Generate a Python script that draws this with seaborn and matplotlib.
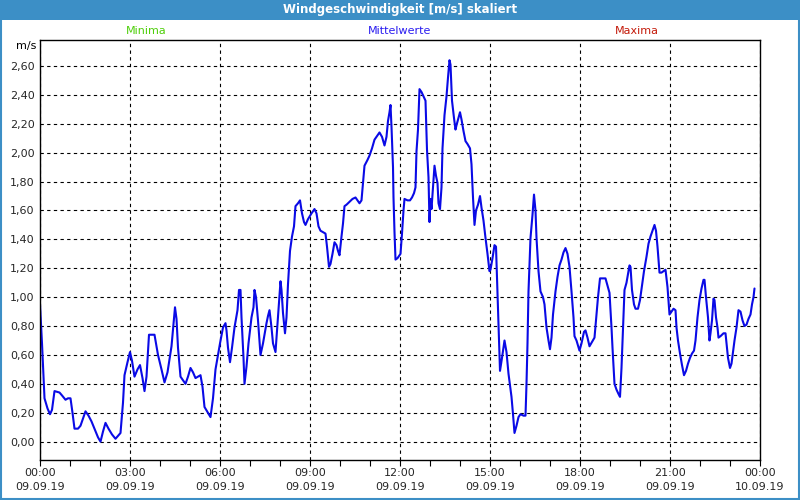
"""
Windgeschwindigkeit (scaled) over one day, 10-minute-ish readings
"""
import pandas as pd
import matplotlib
matplotlib.use("Agg")
import matplotlib.pyplot as plt
import matplotlib.dates as mdates
from matplotlib.patches import Rectangle
import seaborn as sns

# minutes after 09.09.19 00:00
minutes = [
    0, 4, 9, 15, 20, 24, 29, 39, 44, 51, 56, 61, 65, 69, 76, 81, 91, 97, 103, 109,
    116, 121, 126, 131, 137, 144, 151, 156, 161, 166, 169, 175, 180, 184, 189, 195,
    200, 205, 209, 213, 218, 229, 236, 243, 249, 255, 263, 268, 270, 273, 276, 281,
    287, 291, 296, 301, 306, 311, 316, 321, 325, 329, 336, 341, 346, 351, 356, 360,
    366, 371, 373, 376, 380, 384, 389, 395, 398, 401, 403, 407, 409, 413, 417, 423,
    427, 429, 432, 436, 441, 446, 453, 456, 459, 463, 466, 471, 475, 478, 481, 483,
    486, 490, 493, 496, 500, 504, 508, 511, 516, 520, 524, 528, 531, 536, 543, 549,
    553, 557, 561, 566, 571, 574, 578, 581, 585, 589, 593, 596, 599, 603, 606, 609,
    613, 619, 625, 631, 635, 639, 643, 646, 649, 655, 659, 664, 669, 675, 679, 684,
    689, 693, 696, 699, 701, 703, 706, 707, 709, 711, 715, 719,
    721, 724, 727, 729, 735, 740, 744, 748, 751, 753, 756, 759, 763, 767, 771, 774,
    777, 779, 781, 783, 786, 789, 792, 795, 797, 800, 803, 805, 809, 813, 816, 819,
    821, 824, 828, 831, 833, 837, 840, 843, 847, 851, 855, 860, 863, 866, 869, 872,
    876, 880, 883, 887, 891, 895, 899, 901, 905, 909, 912, 915, 918, 920, 924, 929,
    933, 937, 943, 946, 949, 953, 957, 961, 967, 971, 973, 975, 977, 981, 985, 988,
    991, 993, 997, 1001, 1006, 1009, 1013, 1017, 1020, 1023, 1026, 1031, 1035, 1039,
    1043, 1047, 1051, 1055, 1059, 1063, 1067, 1069, 1073,
    1079, 1083, 1088, 1091, 1095, 1099, 1104, 1109, 1113, 1116, 1120, 1126, 1131,
    1135, 1139, 1143, 1145, 1149, 1153, 1157, 1160, 1163, 1166, 1169, 1173, 1176,
    1179, 1181, 1184, 1188, 1191, 1196, 1200, 1204, 1208, 1213, 1217, 1221, 1226,
    1229, 1232, 1235, 1239, 1243, 1247, 1251, 1255, 1259, 1263, 1267, 1271, 1273,
    1276, 1280, 1284, 1288, 1292, 1296, 1300, 1304, 1308, 1311, 1315, 1319, 1323,
    1327, 1329, 1332, 1336, 1339, 1341, 1344, 1347, 1349, 1352, 1355, 1357, 1361,
    1367, 1371, 1373, 1376, 1380, 1383, 1386, 1389, 1393, 1397, 1401, 1405, 1409,
    1413, 1417, 1421, 1424, 1427, 1429,
]
speed = [
    0.95, 0.68, 0.30, 0.23, 0.19, 0.22, 0.35, 0.34, 0.32, 0.29, 0.30, 0.30, 0.20, 0.09, 0.09, 0.11, 0.21, 0.18, 0.14, 0.09,
    0.03, 0.00, 0.07, 0.13, 0.09, 0.05, 0.02, 0.04, 0.06, 0.27, 0.46, 0.55, 0.62, 0.56, 0.45, 0.50,
    0.53, 0.44, 0.35, 0.45, 0.74, 0.74, 0.60, 0.50, 0.41, 0.48, 0.66, 0.85, 0.93, 0.85, 0.65, 0.45,
    0.42, 0.40, 0.45, 0.51, 0.48, 0.44, 0.45, 0.46, 0.38, 0.24, 0.20, 0.17, 0.30, 0.50, 0.60, 0.68,
    0.79, 0.82, 0.77, 0.65, 0.55, 0.65, 0.79, 0.91, 1.05, 1.05, 0.86, 0.58, 0.40, 0.52, 0.68, 0.86,
    0.93, 1.05, 1.00, 0.84, 0.60, 0.68, 0.82, 0.87, 0.91, 0.79, 0.68, 0.62, 0.82, 0.96, 1.11, 1.05,
    0.89, 0.75, 0.86, 1.09, 1.32, 1.42, 1.49, 1.63, 1.65, 1.67, 1.58, 1.52, 1.50, 1.54, 1.58, 1.61,
    1.58, 1.49, 1.46, 1.45, 1.44, 1.35, 1.21, 1.23, 1.30, 1.38, 1.36, 1.32, 1.29, 1.42, 1.51, 1.63,
    1.64, 1.66, 1.68, 1.69, 1.67, 1.65, 1.67, 1.79, 1.91, 1.95, 1.98, 2.03, 2.09, 2.12, 2.14, 2.11,
    2.05, 2.11, 2.22, 2.28, 2.33, 2.18, 1.90, 1.69, 1.45, 1.26, 1.27, 1.29,
    1.30, 1.44, 1.60, 1.68, 1.67, 1.67, 1.69, 1.72, 1.76, 2.01, 2.16, 2.44, 2.42, 2.39, 2.36, 2.02,
    1.83, 1.52, 1.68, 1.61, 1.76, 1.91, 1.84, 1.79, 1.65, 1.61, 1.76, 2.03, 2.26, 2.39, 2.52, 2.64,
    2.61, 2.36, 2.24, 2.16, 2.19, 2.24, 2.28, 2.23, 2.15, 2.08, 2.06, 2.03, 1.92, 1.69, 1.50, 1.60,
    1.64, 1.70, 1.62, 1.53, 1.41, 1.30, 1.18, 1.19, 1.27, 1.36, 1.35, 1.02, 0.68, 0.49, 0.58, 0.70,
    0.62, 0.47, 0.31, 0.19, 0.06, 0.11, 0.17, 0.19, 0.18, 0.18, 0.40, 0.68, 1.04, 1.41, 1.57, 1.71,
    1.60, 1.41, 1.18, 1.04, 1.00, 0.95, 0.79, 0.70, 0.64, 0.72, 0.88, 1.04, 1.14, 1.22,
    1.26, 1.31, 1.34, 1.30, 1.21, 1.04, 0.86, 0.73, 0.70,
    0.63, 0.68, 0.76, 0.77, 0.72, 0.66, 0.69, 0.72, 0.88, 1.00, 1.13, 1.13, 1.13,
    1.08, 1.03, 0.79, 0.65, 0.40, 0.36, 0.33, 0.31, 0.51, 0.79, 1.05, 1.10, 1.16,
    1.22, 1.21, 1.05, 0.95, 0.92, 0.92, 0.98, 1.08, 1.18, 1.28, 1.37, 1.42, 1.47,
    1.50, 1.46, 1.35, 1.17, 1.17, 1.18, 1.19, 1.07, 0.88, 0.90, 0.92, 0.91, 0.79,
    0.70, 0.61, 0.53, 0.46, 0.49, 0.54, 0.58, 0.61, 0.63, 0.70, 0.86, 0.98, 1.06,
    1.12, 1.12, 1.00, 0.86, 0.70, 0.75, 0.84, 0.99, 0.98, 0.86, 0.79, 0.72, 0.73,
    0.75, 0.75, 0.68, 0.58, 0.51, 0.54, 0.62, 0.70, 0.79, 0.91, 0.90, 0.84, 0.80,
    0.81, 0.85, 0.88, 0.95, 1.00, 1.06,
]
y_ticks = [0.0, 0.2, 0.4, 0.6, 0.8, 1.0, 1.2, 1.4, 1.6, 1.8, 2.0, 2.2, 2.4, 2.6]
legend_names = ["Minima", "Mittelwerte", "Maxima"]
legend_colors = ["#4fcf0a", "#2a1cf0", "#c41a0a"]

start = pd.Timestamp("2019-09-09 00:00")
df = pd.DataFrame({
    "zeit": start + pd.to_timedelta(minutes, unit="min"),
    "wert": speed,
})

sns.set_theme(style="white")
plt.rcParams["font.family"] = ["DejaVu Sans"]

fig = plt.figure(figsize=(8, 5), dpi=100)
fig.patch.set_facecolor("white")
ax = fig.add_axes([0.05, 0.08, 0.90, 0.84])

sns.lineplot(data=df, x="zeit", y="wert", ax=ax, color="#0a0ae6",
             linewidth=1.5, estimator=None, sort=True)

ax.set_xlim(start, start + pd.Timedelta(hours=24))
ax.set_ylim(-0.127, 2.78)
ax.set_yticks(y_ticks)
ax.set_yticklabels([f"{v:.2f}".replace(".", ",") for v in y_ticks])
ax.xaxis.set_major_locator(mdates.HourLocator(interval=3))
ax.xaxis.set_minor_locator(mdates.HourLocator(interval=1))
ax.xaxis.set_major_formatter(mdates.DateFormatter("%H:%M\n%d.%m.%y"))
ax.set_xlabel("")
ax.set_ylabel("")

ax.grid(True, which="major", color="black", linestyle=(0, (3, 3)), linewidth=0.8)
for s in ax.spines.values():
    s.set_visible(True)
    s.set_color("black")
    s.set_linewidth(1.0)
ax.tick_params(axis="x", which="both", direction="out", length=4, width=0.8,
               color="black", labelsize=8, pad=2, bottom=True)
ax.tick_params(axis="y", which="both", length=0, labelsize=8, pad=4)
for lab in ax.get_xticklabels():
    lab.set_linespacing(1.5)

# window title bar
fig.patches.append(Rectangle((0, 1 - 20 / 500), 1, 20 / 500, transform=fig.transFigure,
                             facecolor="#3c8fc6", edgecolor="none", zorder=0))
fig.patches.append(Rectangle((0.001, 0.002), 0.998, 0.996, transform=fig.transFigure,
                             facecolor="none", edgecolor="#3c8fc6", linewidth=1.5, zorder=5))
fig.text(0.5, 1 - 10 / 500, "Windgeschwindigkeit [m/s] skaliert", color="white",
         fontsize=8.5, fontweight="bold", ha="center", va="center")

for name, col, xpos in zip(legend_names, legend_colors, [146, 400, 637]):
    fig.text(xpos / 800, 1 - 31 / 500, name, color=col, fontsize=8, ha="center", va="center")
fig.text(36 / 800, 1 - 46 / 500, "m/s", color="black", fontsize=8, ha="right", va="center")

fig.savefig("out.png", dpi=100)
